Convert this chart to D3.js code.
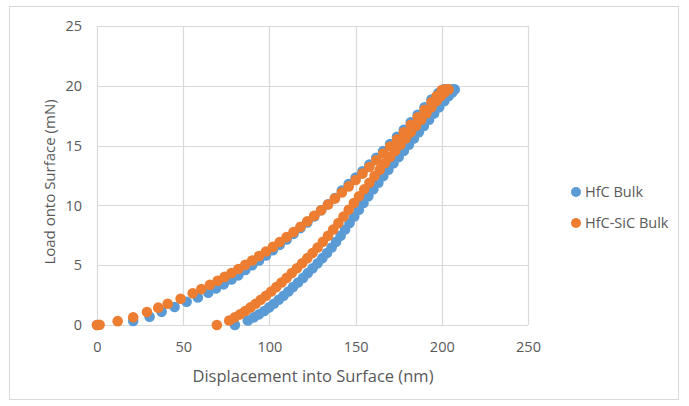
<!DOCTYPE html>
<html>
<head>
<meta charset="utf-8">
<script src="https://cdn.jsdelivr.net/npm/d3@7/dist/d3.min.js"></script>
<style>
  html, body { margin: 0; padding: 0; background: #ffffff; }
  svg { display: block; }
  text { font-family: "Open Sans", "Liberation Sans", sans-serif; fill: #595959; }
</style>
</head>
<body>
<div id="chart"></div>
<script>
// ---- Data ----
const seriesNames = ["HfC Bulk", "HfC-SiC Bulk"];
const seriesColors = ["#5B9BD5", "#ED7D31"];

const xTicks = [0, 50, 100, 150, 200, 250];
const yTicks = [0, 5, 10, 15, 20, 25];

const xTitle = "Displacement into Surface (nm)";
const yTitle = "Load onto Surface (mN)";

// HfC Bulk: loading, hold, unloading (displacement nm, load mN)
const hfcDisp = [0, 21, 30.5, 37.5, 45, 52, 58.5, 64.5, 69, 73.5, 78, 82, 86, 90, 94, 98, 102, 106, 110, 114, 118, 122, 126, 130, 134, 138, 142, 146, 150, 154, 158, 162, 166, 170, 174, 178, 182, 186, 190, 194, 198, 201, 203.5, 206, 207.5,
  206, 204, 201.5, 198.5, 195.5, 192.6, 189.6, 186.7, 183.8, 180.9, 178, 175, 172, 169, 166.1, 163.2, 160.3, 157.4, 154.6, 151.9, 149.2, 146.5, 143.9, 141.3, 138.7, 136.1, 133.4, 130.7, 128, 125.1, 122.3, 119.5, 116.6, 113.7, 111, 108.2, 105.4, 102.6, 99.8, 97, 94, 91, 87.5, 80];
const hfcLoad = [0, 0.33, 0.7, 1.1, 1.5, 1.95, 2.3, 2.7, 3.05, 3.4, 3.8, 4.15, 4.6, 5.0, 5.4, 5.82, 6.25, 6.7, 7.15, 7.62, 8.1, 8.58, 9.08, 9.6, 10.1, 10.62, 11.25, 11.78, 12.32, 12.86, 13.42, 13.98, 14.55, 15.13, 15.73, 16.33, 16.95, 17.58, 18.2, 18.85, 19.4, 19.7, 19.7, 19.7, 19.7,
  19.45, 19.15, 18.72, 18.2, 17.68, 17.16, 16.64, 16.12, 15.6, 15.08, 14.56, 14.04, 13.52, 12.99, 12.45, 11.9, 11.34, 10.77, 10.2, 9.63, 9.07, 8.52, 7.98, 7.46, 6.96, 6.48, 6.02, 5.59, 5.16, 4.74, 4.34, 3.94, 3.55, 3.17, 2.8, 2.45, 2.11, 1.78, 1.47, 1.17, 0.89, 0.64, 0.38, 0];

// HfC-SiC Bulk: loading, hold, unloading (displacement nm, load mN)
const sicDisp = [0, 1.5, 12, 21, 29, 35.5, 41, 48.5, 55.5, 60.5, 65.5, 70, 74, 78, 82, 86, 90, 94, 98, 102, 106, 110, 114, 118, 122, 126, 130, 134, 138, 142, 146, 150, 154, 158, 162, 166, 170, 174, 178, 182, 186, 190, 194, 197, 200, 202, 204,
  201.5, 199.5, 197, 194, 191, 188, 185, 182, 179, 176, 173, 170, 167, 164, 161, 158, 155, 152, 149, 146, 143, 140, 137, 134, 131, 128, 125, 122, 119, 116, 113, 110, 107, 104, 101, 98, 95, 92, 89, 86, 83, 80, 76.7, 69.5];
const sicLoad = [0, 0.02, 0.32, 0.65, 1.08, 1.45, 1.78, 2.2, 2.65, 3.0, 3.36, 3.7, 4.02, 4.34, 4.68, 5.03, 5.39, 5.76, 6.14, 6.53, 6.94, 7.35, 7.78, 8.22, 8.67, 9.13, 9.6, 10.08, 10.57, 11.08, 11.59, 12.12, 12.66, 13.21, 13.77, 14.34, 14.92, 15.52, 16.12, 16.74, 17.37, 18.0, 18.65, 19.15, 19.65, 19.7, 19.7,
  19.45, 19.15, 18.72, 18.2, 17.68, 17.16, 16.64, 16.12, 15.6, 15.08, 14.56, 14.04, 13.52, 12.99, 12.45, 11.9, 11.34, 10.77, 10.2, 9.63, 9.07, 8.52, 7.98, 7.46, 6.96, 6.48, 6.02, 5.59, 5.16, 4.74, 4.34, 3.94, 3.55, 3.17, 2.8, 2.45, 2.11, 1.78, 1.47, 1.17, 0.89, 0.64, 0.38, 0];

// ---- Layout ----
const W = 689, H = 406;
const plot = { left: 97, right: 528, top: 26, bottom: 325 };

const svg = d3.select("#chart").append("svg")
  .attr("width", W).attr("height", H);

svg.append("rect").attr("x", 0).attr("y", 0).attr("width", W).attr("height", H).attr("fill", "#ffffff");
svg.append("rect").attr("x", 9.5).attr("y", 6.5).attr("width", 669).attr("height", 393)
  .attr("fill", "none").attr("stroke", "#d9d9d9").attr("stroke-width", 1);

const x = d3.scaleLinear().domain([0, 250]).range([plot.left, plot.right]);
const y = d3.scaleLinear().domain([0, 25]).range([plot.bottom, plot.top]);

// gridlines
const grid = svg.append("g");
grid.selectAll("line.v").data(xTicks).enter().append("line")
  .attr("x1", d => Math.round(x(d)) + 0.5).attr("x2", d => Math.round(x(d)) + 0.5)
  .attr("y1", plot.top).attr("y2", plot.bottom)
  .attr("stroke", "#d9d9d9").attr("stroke-width", 1.2);
grid.selectAll("line.h").data(yTicks).enter().append("line")
  .attr("y1", d => Math.round(y(d)) + 0.5).attr("y2", d => Math.round(y(d)) + 0.5)
  .attr("x1", plot.left).attr("x2", plot.right)
  .attr("stroke", "#d9d9d9").attr("stroke-width", 1.2);

// axes (labels only)
const xAxis = d3.axisBottom(x).tickValues(xTicks).tickSize(0).tickPadding(0);
const gx = svg.append("g").attr("transform", `translate(0,${plot.bottom + 17})`).call(xAxis);
gx.select(".domain").remove();
gx.selectAll("text").attr("dy", "0.71em").style("font-size", "14.5px").style("font-family", "'Open Sans', sans-serif").attr("fill", "#595959");

const yAxis = d3.axisLeft(y).tickValues(yTicks).tickSize(0).tickPadding(0);
const gy = svg.append("g").attr("transform", `translate(${plot.left - 15},0)`).call(yAxis);
gy.select(".domain").remove();
gy.selectAll("text").style("font-size", "14.5px").style("font-family", "'Open Sans', sans-serif").attr("fill", "#595959");

// titles
svg.append("text").attr("x", 313).attr("y", 382).attr("text-anchor", "middle")
  .style("font-size", "16.5px").text(xTitle);
svg.append("text").attr("transform", "translate(55,182) rotate(-90)").attr("text-anchor", "middle")
  .style("font-size", "15px").text(yTitle);

// series
const series = [
  { name: seriesNames[0], color: seriesColors[0], pts: hfcDisp.map((d, i) => [d, hfcLoad[i]]) },
  { name: seriesNames[1], color: seriesColors[1], pts: sicDisp.map((d, i) => [d, sicLoad[i]]) }
];

const R = 5.3;
series.forEach(s => {
  svg.append("g").selectAll("circle").data(s.pts).enter().append("circle")
    .attr("cx", d => x(d[0])).attr("cy", d => y(d[1])).attr("r", R)
    .attr("fill", s.color);
});

// legend
const legend = svg.append("g");
series.forEach((s, i) => {
  const ly = 192 + i * 31;
  legend.append("circle").attr("cx", 576).attr("cy", ly).attr("r", 5).attr("fill", s.color);
  legend.append("text").attr("x", 585).attr("y", ly).attr("dy", "0.35em")
    .style("font-size", "14.5px").text(s.name);
});
</script>
</body>
</html>
